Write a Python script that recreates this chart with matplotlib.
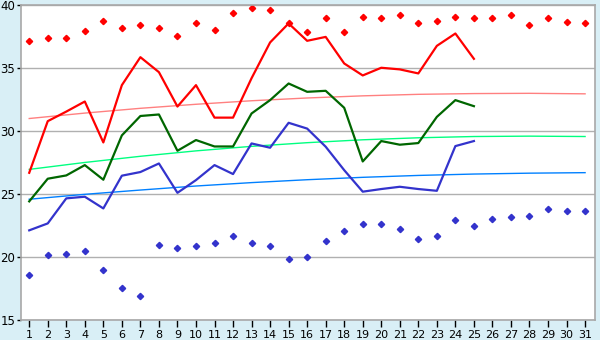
import numpy as np
import matplotlib
matplotlib.use("Agg")
import matplotlib.pyplot as plt

# day numbers along the bottom
days = list(range(1, 32))
line_days = list(range(1, 26))

# upper and lower scatter points (all 31 days)
upper_pts = [37.12, 37.43, 37.43, 37.91, 38.78, 38.15, 38.41, 38.15, 37.59, 38.62,
             37.99, 39.34, 39.76, 39.58, 38.55, 37.83, 39.02, 37.83, 39.10, 39.02,
             39.18, 38.55, 38.78, 39.10, 39.02, 39.02, 39.18, 38.39, 39.02, 38.70, 38.55]
lower_pts = [18.55, 20.13, 20.21, 20.45, 18.94, 17.51, 16.88, 20.93, 20.69, 20.85,
             21.08, 21.64, 21.08, 20.85, 19.82, 19.98, 21.25, 22.04, 22.59, 22.59,
             22.20, 21.40, 21.64, 22.91, 22.44, 22.99, 23.15, 23.23, 23.79, 23.63, 23.63]

# the three lines (days 1..25)
red_vals = [26.69, 30.79, 31.55, 32.35, 29.10, 33.65, 35.87, 34.68, 31.95, 33.65,
            31.07, 31.07, 34.20, 37.04, 38.55, 37.17, 37.48, 35.37, 34.42, 35.03,
            34.90, 34.58, 36.77, 37.75, 35.74]
green_vals = [24.42, 26.22, 26.48, 27.30, 26.14, 29.66, 31.20, 31.32, 28.44, 29.29,
              28.78, 28.78, 31.40, 32.46, 33.78, 33.12, 33.20, 31.85, 27.59, 29.21,
              28.92, 29.05, 31.13, 32.46, 31.98]
blue_vals = [22.12, 22.67, 24.66, 24.79, 23.86, 26.46, 26.75, 27.43, 25.10, 26.11,
             27.30, 26.59, 29.02, 28.68, 30.66, 30.20, 28.76, 26.90, 25.19, 25.40,
             25.58, 25.40, 25.26, 28.81, 29.21]

# trend lines, read every 3 days
trend_days = [1, 4, 7, 10, 13, 16, 19, 22, 25, 28, 31]
red_trend = [31.00, 31.43, 31.81, 32.13, 32.41, 32.63, 32.80, 32.92, 32.98, 33.00, 32.96]
green_trend = [26.96, 27.51, 28.00, 28.43, 28.79, 29.08, 29.31, 29.47, 29.57, 29.60, 29.57]
blue_trend = [24.59, 24.98, 25.32, 25.64, 25.91, 26.14, 26.33, 26.48, 26.59, 26.66, 26.70]

bg = '#d9eff6'
fig = plt.figure(figsize=(6, 3.4), dpi=100, facecolor=bg)
ax = fig.add_axes([0.0345, 0.0588, 0.957, 0.926])
ax.set_facecolor('white')

# trend lines first (thin)
ax.plot(trend_days, red_trend, color='#ff8080', lw=1)
ax.plot(trend_days, green_trend, color='#00ff80', lw=1)
ax.plot(trend_days, blue_trend, color='#0080ff', lw=1)

# main lines
ax.plot(line_days, red_vals, color='#ff0000', lw=1.6)
ax.plot(line_days, green_vals, color='#006600', lw=1.6)
ax.plot(line_days, blue_vals, color='#3333cc', lw=1.6)

# scatter points
ax.plot(days, upper_pts, ls='none', marker='D', ms=3.2, color='#ff0000')
ax.plot(days, lower_pts, ls='none', marker='D', ms=3.2, color='#3333cc')

ax.set_xlim(0.54, 31.53)
ax.set_ylim(15, 40)
ax.set_xticks(days)
ax.set_yticks([15, 20, 25, 30, 35, 40])
ax.yaxis.grid(True, color='#b0b0b0', lw=1)
ax.set_axisbelow(True)

for s in ax.spines.values():
    s.set_color('#a8a8a8')
    s.set_linewidth(1.2)

ax.tick_params(axis='x', length=5, width=1, color='black', labelsize=8, pad=2)
ax.tick_params(axis='y', length=3, width=1, color='black', labelsize=8.5, pad=1)

fig.savefig('out.png', dpi=100, facecolor=bg)
